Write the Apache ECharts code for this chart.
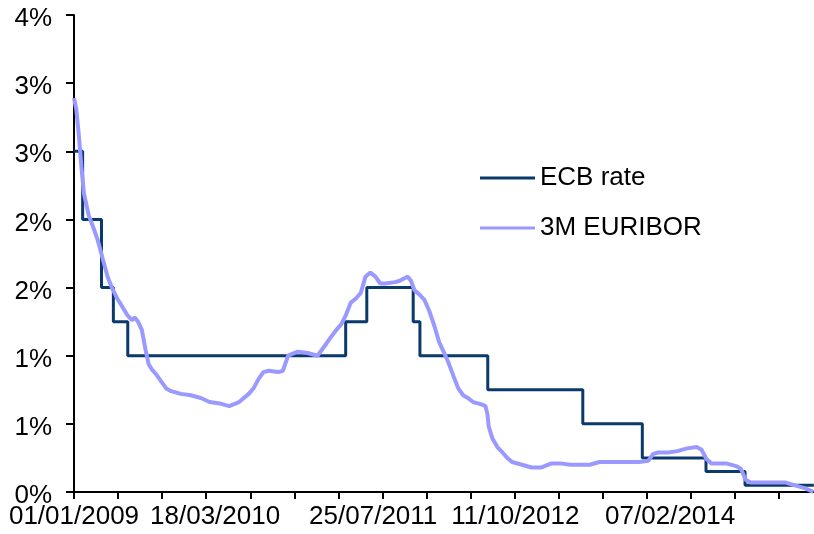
<!DOCTYPE html>
<html>
<head>
<meta charset="utf-8">
<script src="https://cdn.jsdelivr.net/npm/echarts@6/dist/echarts.min.js"></script>
<style>
  html, body { margin: 0; padding: 0; background: #fff; }
  #chart { width: 814px; height: 534px; }
</style>
</head>
<body>
<div id="chart"></div>
<script>
// ECB rate: date each level starts, level in %
const ecbDates = ['2009-01-01', '2009-01-28', '2009-03-28', '2009-05-04', '2009-06-18',
  '2011-04-30', '2011-07-05', '2011-11-27', '2011-12-18', '2012-07-17',
  '2013-05-10', '2013-11-12', '2014-05-30', '2014-09-29', '2015-05-02'];
const ecbRates = [2.5, 2.0, 1.5, 1.25, 1.0,
  1.25, 1.5, 1.25, 1.0, 0.75,
  0.5, 0.25, 0.15, 0.05, 0.05];

// 3M EURIBOR in %
const euriborDates = [
  '2009-01-01', '2009-01-08', '2009-01-16', '2009-01-24', '2009-02-01', '2009-02-16',
  '2009-03-01', '2009-03-16', '2009-04-01', '2009-04-16', '2009-05-01', '2009-05-16',
  '2009-06-01', '2009-06-16', '2009-07-01', '2009-07-10', '2009-07-20', '2009-08-01',
  '2009-08-12', '2009-08-22', '2009-09-01', '2009-09-16', '2009-10-01', '2009-10-16',
  '2009-11-01', '2009-12-01',
  '2010-01-01', '2010-02-01', '2010-03-01', '2010-04-01', '2010-05-01', '2010-06-01',
  '2010-07-01', '2010-07-16', '2010-08-01', '2010-08-16', '2010-09-01', '2010-10-01',
  '2010-10-16', '2010-11-01', '2010-12-01',
  '2011-01-01', '2011-02-01', '2011-03-01', '2011-03-16', '2011-04-01', '2011-04-16',
  '2011-05-01', '2011-05-16', '2011-06-01', '2011-06-16', '2011-07-01', '2011-07-16',
  '2011-08-01', '2011-08-16', '2011-09-01', '2011-10-01', '2011-10-16', '2011-11-01',
  '2011-11-10', '2011-11-20', '2011-12-01', '2011-12-16',
  '2012-01-01', '2012-01-16', '2012-02-01', '2012-02-16', '2012-03-01', '2012-03-16',
  '2012-04-01', '2012-04-16', '2012-05-01', '2012-05-16', '2012-06-01', '2012-06-16',
  '2012-07-01', '2012-07-10', '2012-07-16', '2012-07-20', '2012-08-01', '2012-08-16',
  '2012-09-01', '2012-09-16', '2012-10-01', '2012-11-01', '2012-12-01',
  '2013-01-01', '2013-02-01', '2013-03-01', '2013-04-01', '2013-05-01', '2013-06-01',
  '2013-07-01', '2013-08-01', '2013-09-01', '2013-10-01', '2013-11-01', '2013-12-01',
  '2013-12-16',
  '2014-01-01', '2014-02-01', '2014-03-01', '2014-04-01', '2014-05-01', '2014-05-16',
  '2014-06-01', '2014-06-16', '2014-07-01', '2014-08-01', '2014-09-01', '2014-09-16',
  '2014-10-01', '2014-10-16', '2014-11-01', '2014-12-01',
  '2015-01-01', '2015-02-01', '2015-03-01', '2015-04-01', '2015-05-01'];
const euriborRates = [
  2.89, 2.81, 2.62, 2.39, 2.19, 2.03,
  1.95, 1.85, 1.71, 1.58, 1.49, 1.42,
  1.36, 1.30, 1.26, 1.28, 1.25, 1.19,
  1.05, 0.94, 0.90, 0.86, 0.81, 0.76,
  0.74, 0.72,
  0.71, 0.69, 0.66, 0.65, 0.63, 0.66,
  0.72, 0.76, 0.83, 0.88, 0.89, 0.88,
  0.89, 1.00, 1.03,
  1.02, 1.00, 1.09, 1.14, 1.19, 1.23,
  1.30, 1.39, 1.42, 1.46, 1.58, 1.61,
  1.58, 1.53, 1.53, 1.54, 1.55, 1.57,
  1.58, 1.55, 1.48, 1.45,
  1.41, 1.33, 1.22, 1.10, 1.03, 0.95,
  0.85, 0.76, 0.71, 0.69, 0.66, 0.65,
  0.64, 0.63, 0.57, 0.48, 0.39, 0.33,
  0.29, 0.25, 0.22, 0.20, 0.18,
  0.18, 0.21, 0.21, 0.20, 0.20, 0.20,
  0.22, 0.22, 0.22, 0.22, 0.22, 0.23,
  0.28,
  0.29, 0.29, 0.30, 0.32, 0.33, 0.31,
  0.24, 0.21, 0.21, 0.21, 0.19, 0.17,
  0.09, 0.07, 0.07, 0.07,
  0.07, 0.07, 0.05, 0.03, 0.00];

// dates written under the axis
const xLabelDates = ['2009-01-01', '2010-03-18', '2011-07-25', '2012-10-11', '2014-02-07'];

const axisStart = '2009-01-01';
const axisEnd = '2015-05-02 12:00';
const tickStepDays = 137.7;

const font = "'Liberation Sans', Arial, sans-serif";
const DAY = 86400000;
const t = s => echarts.time.parse(s).getTime();
const pad = n => (n < 10 ? '0' : '') + n;

const startMs = t(axisStart);
const endMs = t(axisEnd);
const tickValues = [];
for (let v = startMs; v <= endMs; v += tickStepDays * DAY) tickValues.push(v);

const chart = echarts.init(document.getElementById('chart'));

// x is a plain value axis holding timestamps, so custom ticks/labels work
const option = {
  animation: false,
  grid: { left: 74, right: 0, top: 15, bottom: 42 },
  legend: {
    orient: 'vertical',
    left: 475,
    top: 160,
    icon: 'rect',
    itemWidth: 55,
    itemHeight: 3,
    itemGap: 24,
    textStyle: { fontFamily: font, fontSize: 26, color: '#000', lineHeight: 26 },
    data: ['ECB rate', '3M EURIBOR']
  },
  xAxis: {
    type: 'value',
    min: startMs,
    max: endMs,
    axisLine: { lineStyle: { color: '#000', width: 2 } },
    axisTick: { show: true, length: 7, lineStyle: { color: '#000', width: 2 }, customValues: tickValues },
    splitLine: { show: false },
    axisLabel: {
      customValues: xLabelDates.map(t),
      margin: 12,
      fontFamily: font,
      fontSize: 26,
      color: '#000',
      formatter: v => {
        const d = new Date(v);
        return pad(d.getDate()) + '/' + pad(d.getMonth() + 1) + '/' + d.getFullYear();
      }
    }
  },
  yAxis: {
    type: 'value',
    min: 0,
    max: 3.5,
    interval: 0.5,
    axisLine: { show: true, lineStyle: { color: '#000', width: 2 } },
    axisTick: { show: true, length: 8, lineStyle: { color: '#000', width: 2 } },
    splitLine: { show: false },
    axisLabel: {
      margin: 22,
      fontFamily: font,
      fontSize: 26,
      color: '#000',
      // labels sit a few px below their ticks in the original
      formatter: v => '{p|' + Math.round(v) + '%}',
      rich: {
        p: { fontFamily: font, fontSize: 26, color: '#000', padding: [8, 0, 0, 0] }
      }
    }
  },
  series: [
    {
      name: 'ECB rate',
      type: 'line',
      step: 'end',
      symbol: 'none',
      color: '#0a3a6b',
      lineStyle: { color: '#0a3a6b', width: 3 },
      data: ecbDates.map((d, i) => [t(d), ecbRates[i]])
    },
    {
      name: '3M EURIBOR',
      type: 'line',
      symbol: 'none',
      color: '#9999ff',
      lineStyle: { color: '#9999ff', width: 4 },
      data: euriborDates.map((d, i) => [t(d), euriborRates[i]])
    }
  ]
};

chart.setOption(option);
</script>
</body>
</html>
